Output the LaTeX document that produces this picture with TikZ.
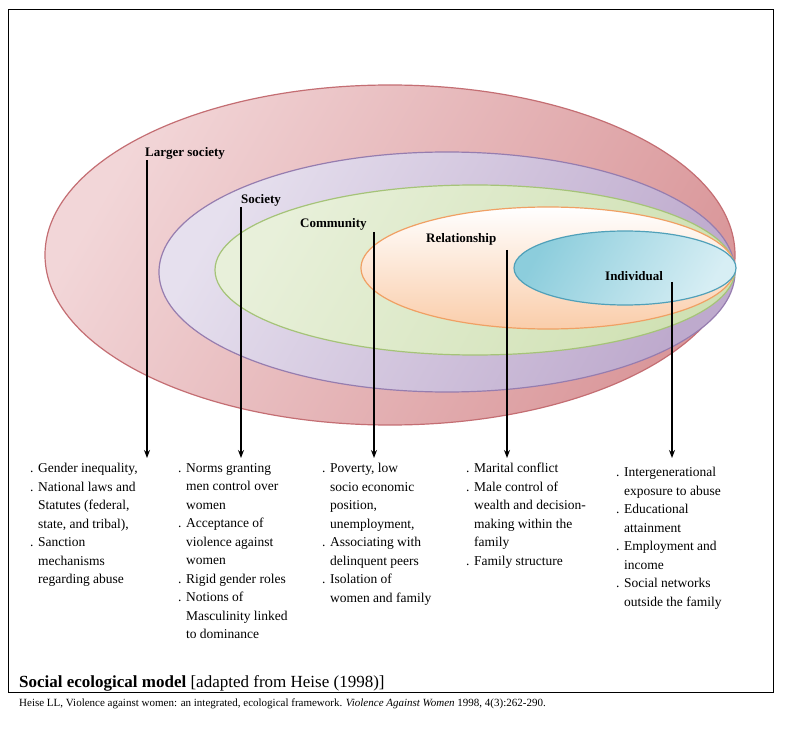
\documentclass[tikz,border=0pt]{standalone}
\usepackage{fontspec}
\setmainfont{Liberation Serif}
\usetikzlibrary{arrows.meta}
\definecolor{rL}{RGB}{242,214,216}\definecolor{rD}{RGB}{218,152,155}\definecolor{rE}{RGB}{196,110,115}
\definecolor{pL}{RGB}{230,224,238}\definecolor{pD}{RGB}{190,170,205}\definecolor{pE}{RGB}{150,125,175}
\definecolor{gL}{RGB}{232,240,218}\definecolor{gD}{RGB}{208,225,180}\definecolor{gE}{RGB}{165,195,120}
\definecolor{oD}{RGB}{250,205,170}\definecolor{oE}{RGB}{240,160,100}
\definecolor{bL}{RGB}{215,238,244}\definecolor{bD}{RGB}{140,205,220}\definecolor{bE}{RGB}{80,160,185}
\begin{document}
\begin{tikzpicture}[x=1pt,y=-1pt,
  lab/.style={font=\fontsize{13}{14}\selectfont\bfseries,anchor=base west,inner sep=0},
  col/.style={anchor=north west,align=left,inner sep=0,font=\fontsize{13.5}{18.5}\selectfont},
  arr/.style={line width=1.5pt,-{Stealth[length=8pt,width=6pt]}},
  ell/.style={line width=1.2pt}]
\useasboundingbox (0,0) rectangle (785,730);
\fill[white] (0,0) rectangle (785,730);
\draw[line width=0.8pt] (8,9) rectangle (773,692);
\shade[ell,left color=rL,right color=rD,shading angle=60,draw=rE] (390,255) ellipse [x radius=345,y radius=170];
\shade[ell,left color=pL,right color=pD,shading angle=60,draw=pE] (447,272) ellipse [x radius=288,y radius=120];
\shade[ell,left color=gL,right color=gD,shading angle=60,draw=gE] (475,270) ellipse [x radius=260,y radius=85];
\shade[ell,top color=white,bottom color=oD,draw=oE] (548,268) ellipse [x radius=187,y radius=61];
\shade[ell,left color=bD,right color=bL,shading angle=60,draw=bE] (625,268) ellipse [x radius=111,y radius=37];
\node[lab] (l1) at (145,157) {Larger society};
\node[lab] (l2) at (241,204) {Society};
\node[lab] (l3) at (300,228) {Community};
\node[lab] (l4) at (426,243) {Relationship};
\node[lab] (l5) at (605,280) {Individual};
\coordinate (a1) at (147,160); \coordinate (b1) at (147,458);
\coordinate (a2) at (241,207); \coordinate (b2) at (241,458);
\coordinate (a3) at (374,232); \coordinate (b3) at (374,458);
\coordinate (a4) at (507,250); \coordinate (b4) at (507,458);
\coordinate (a5) at (672,282); \coordinate (b5) at (672,458);
\foreach \i in {1,...,5} \draw[arr] (a\i) -- (b\i);
\node[col] (c1) at (30,463) {. Gender inequality,\\. National laws and\\\phantom{. }Statutes (federal,\\\phantom{. }state, and tribal),\\. Sanction\\\phantom{. }mechanisms\\\phantom{. }regarding abuse};
\node[col] (c2) at (178,463) {. Norms granting\\\phantom{. }men control over\\\phantom{. }women\\. Acceptance of\\\phantom{. }violence against\\\phantom{. }women\\. Rigid gender roles\\. Notions of\\\phantom{. }Masculinity linked\\\phantom{. }to dominance};
\node[col] (c3) at (322,463) {. Poverty, low\\\phantom{. }socio economic\\\phantom{. }position,\\\phantom{. }unemployment,\\. Associating with\\\phantom{. }delinquent peers\\. Isolation of\\\phantom{. }women and family};
\node[col] (c4) at (466,463) {. Marital conflict\\. Male control of\\\phantom{. }wealth and decision-\\\phantom{. }making within the\\\phantom{. }family\\. Family structure};
\node[col] (c5) at (616,467) {. Intergenerational\\\phantom{. }exposure to abuse\\. Educational\\\phantom{. }attainment\\. Employment and\\\phantom{. }income\\. Social networks\\\phantom{. }outside the family};
\node[anchor=base west,inner sep=0,font=\fontsize{17}{18}\selectfont] (cap) at (19,687) {\textbf{Social ecological model} [adapted from Heise (1998)]};
\node[anchor=base west,inner sep=0,font=\fontsize{11}{12}\selectfont] (ref) at (19,706) {Heise LL, Violence against women: an integrated, ecological framework. \textit{Violence Against Women} 1998, 4(3):262-290.};
\end{tikzpicture}
\end{document}
